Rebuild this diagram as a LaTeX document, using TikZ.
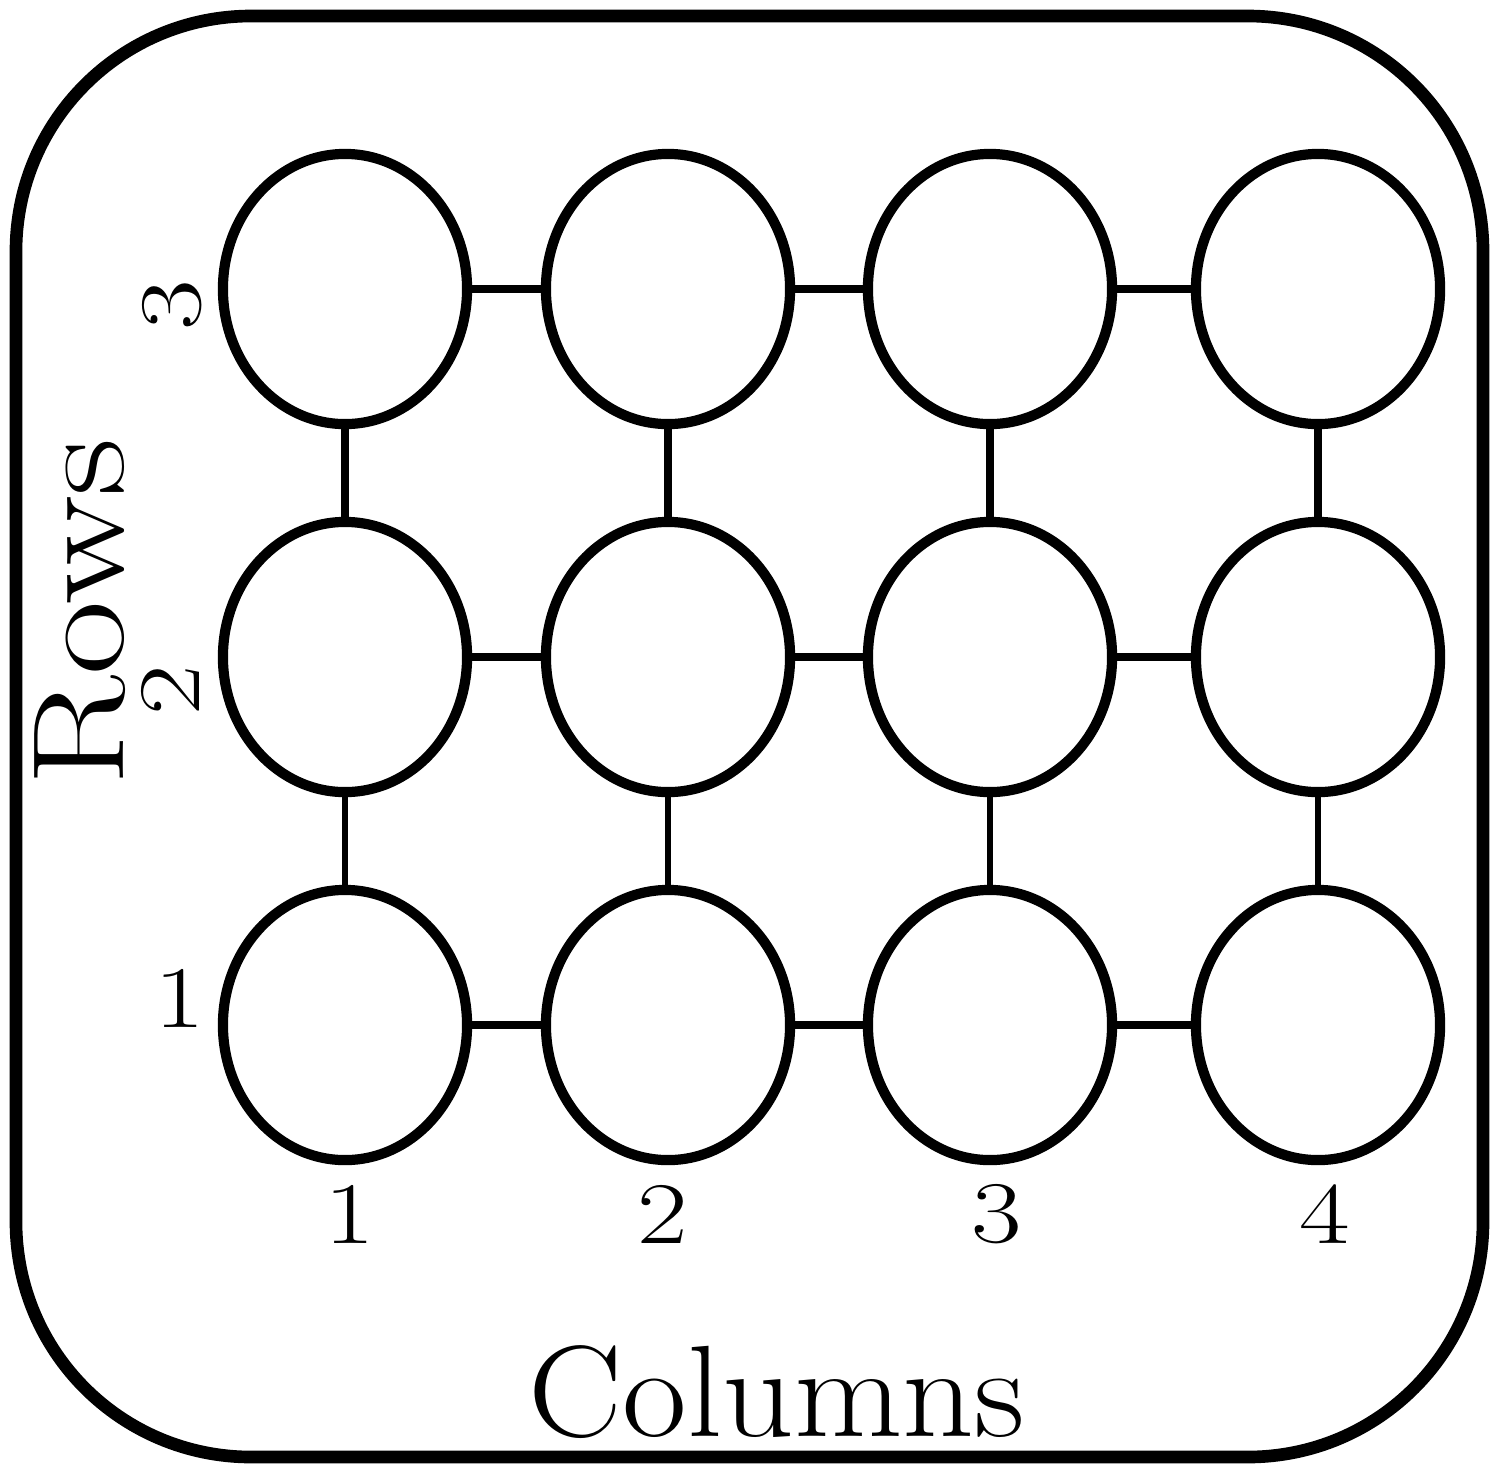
\documentclass[tikz,border=0pt]{standalone}
\usetikzlibrary{shapes.geometric}
\begin{document}
\begin{tikzpicture}[x=0.01cm,y=-0.01cm,
  cell/.style={draw,ellipse,line width=2.9pt,minimum width=2.44cm,minimum height=2.7cm,inner sep=0pt},
  hlink/.style={line width=2.3pt},
  vlinkA/.style={line width=2.3pt},
  vlinkB/.style={line width=1.5pt},
  num/.style={font=\fontsize{25}{30}\selectfont,inner sep=0pt},
  big/.style={font=\fontsize{37}{44}\selectfont,inner sep=0pt}]
\useasboundingbox (0,0) rectangle (1509,1472);
\draw[line width=3.6pt,rounded corners=2.35cm] (16,16) rectangle (1483,1457);
% cells
\foreach \c/\x in {1/345,2/668,3/990,4/1318}{
  \foreach \r/\y in {3/289,2/657,1/1025}{
    \node[cell] (n\c\r) at (\x,\y) {};
  }
}
% horizontal links
\foreach \r in {1,2,3}{
  \draw[hlink] (n1\r.east) -- (n2\r.west);
  \draw[hlink] (n2\r.east) -- (n3\r.west);
  \draw[hlink] (n3\r.east) -- (n4\r.west);
}
% vertical links
\foreach \c in {1,2,3,4}{
  \draw[vlinkA] (n\c3.south) -- (n\c2.north);
  \draw[vlinkB] (n\c2.south) -- (n\c1.north);
}
% labels
\node[num,rotate=90] (r3) at (172,305) {\scalebox{1.25}[1]{3}};
\node[num,rotate=90] (r2) at (170,690) {\scalebox{1.25}[1]{2}};
\node[num] (r1) at (180,998) {\scalebox{1.25}[1]{1}};
\node[num] (c1) at (350,1214) {\scalebox{1.25}[1]{1}};
\node[num] (c2) at (663,1214) {\scalebox{1.25}[1]{2}};
\node[num] (c3) at (997,1214) {\scalebox{1.25}[1]{3}};
\node[num] (c4) at (1325,1214) {\scalebox{1.25}[1]{4}};
\node[big,rotate=90] (rows) at (80,612) {\scalebox{1.25}[1]{Rows}};
\node[big] (cols) at (777,1392) {\scalebox{1.08}[1]{Columns}};
\end{tikzpicture}
\end{document}
